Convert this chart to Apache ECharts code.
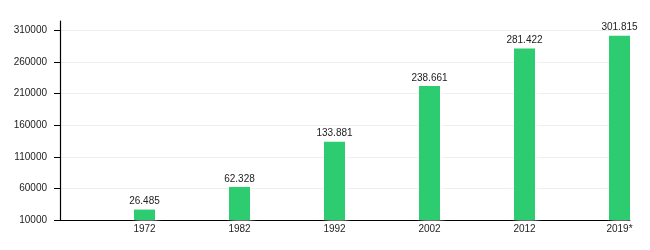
<!DOCTYPE html>
<html>
<head>
<meta charset="utf-8">
<script src="https://cdn.jsdelivr.net/npm/echarts@6/dist/echarts.min.js"></script>
<style>
html, body { margin: 0; padding: 0; background: #fff; }
#chart { width: 650px; height: 250px; }
</style>
</head>
<body>
<div id="chart"></div>
<script>
// Data
var categories = ['1972', '1982', '1992', '2002', '2012', '2019*'];
var barValues = [26485, 62328, 133881, 222300, 281422, 301815];
var barLabels = ['26.485', '62.328', '133.881', '238.661', '281.422', '301.815'];
var yTickValues = [10000, 60000, 110000, 160000, 210000, 260000, 310000];

var chart = echarts.init(document.getElementById('chart'), null, { renderer: 'canvas' });
var font = 'Liberation Sans, Arial, Helvetica, sans-serif';

chart.setOption({
  animation: false,
  backgroundColor: '#fff',
  grid: { left: 60, right: 20, top: 21, bottom: 30, containLabel: false },
  xAxis: {
    type: 'category',
    data: categories,
    boundaryGap: true,
    axisLine: { show: true, lineStyle: { color: '#000', width: 1.2 } },
    axisTick: { show: false },
    splitLine: { show: false },
    axisLabel: {
      color: '#222', fontSize: 10, fontFamily: font, margin: 4,
      padding: [0, 0, 0, 74]
    }
  },
  yAxis: {
    type: 'value',
    min: 10000,
    max: 325000,
    interval: 50000,
    axisLine: { show: true, lineStyle: { color: '#000', width: 1.2 } },
    axisTick: { show: true, length: 6, inside: false, lineStyle: { color: '#000' }, customValues: yTickValues },
    axisLabel: {
      color: '#222', fontSize: 10, fontFamily: font, margin: 13,
      customValues: yTickValues,
      formatter: function (v) { return String(v); }
    },
    splitLine: { show: true, lineStyle: { color: '#eeeeee', width: 1 } }
  },
  series: [
    {
      name: 'spacer',
      type: 'bar',
      data: categories.map(function () { return null; }),
      barWidth: 74,
      barGap: '0%',
      silent: true,
      itemStyle: { color: 'rgba(0,0,0,0)' }
    },
    {
      name: 'value',
      type: 'bar',
      data: barValues,
      barWidth: 21,
      barGap: '0%',
      itemStyle: {
        color: '#2ecc71',
        shadowColor: '#ffffff',
        shadowBlur: 6,
        shadowOffsetX: 2
      },
      label: {
        show: true,
        position: 'top',
        distance: 3,
        color: '#222',
        fontSize: 10,
        fontFamily: font,
        formatter: function (p) { return barLabels[p.dataIndex]; }
      }
    }
  ]
});
</script>
</body>
</html>
